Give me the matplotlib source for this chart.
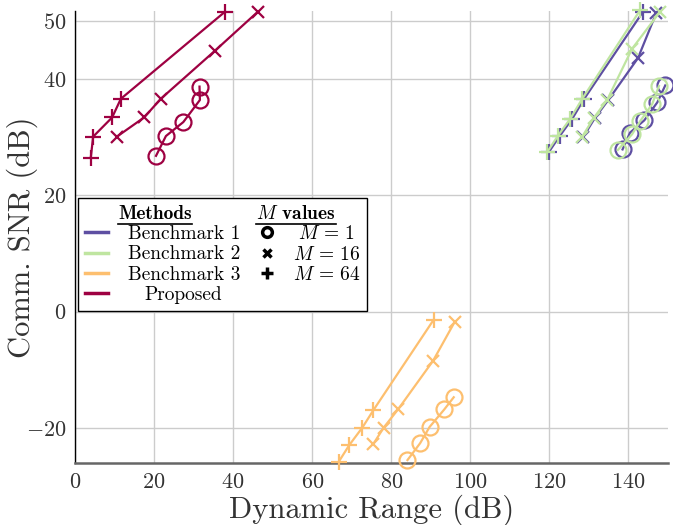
import numpy as np
import matplotlib
matplotlib.use("Agg")
import matplotlib.pyplot as plt
from matplotlib.lines import Line2D

# ── data ────────────────────────────────────────────────────────────────────
methods = ["Benchmark 1", "Benchmark 2", "Benchmark 3", "Proposed"]
m_labels = [r"$M\,=\,1$", r"$M\,=\,16$", r"$M\,=\,64$"]
m_markers = ["o", "x", "+"]

# Benchmark 1
b1_m1_x = [138.5, 140.4, 144.0, 147.3, 149.3]
b1_m1_y = [27.9, 30.8, 32.9, 36.0, 38.9]
b1_m16_x = [128.6, 131.5, 134.9, 142.4, 147.0]
b1_m16_y = [30.1, 33.3, 36.4, 43.6, 51.3]
b1_m64_x = [119.8, 122.6, 125.8, 128.8, 143.7]
b1_m64_y = [27.4, 30.2, 33.2, 36.6, 51.6]

# Benchmark 2
b2_m1_x = [137.3, 140.9, 143.0, 146.0, 147.7]
b2_m1_y = [27.8, 30.5, 32.8, 35.7, 38.8]
b2_m16_x = [128.3, 131.2, 134.6, 140.9, 147.9]
b2_m16_y = [30.1, 33.3, 36.4, 45.2, 51.5]
b2_m64_x = [119.4, 122.1, 125.3, 128.3, 142.9]
b2_m64_y = [27.4, 30.2, 33.2, 36.6, 51.8]

# Benchmark 3
b3_m1_x = [84.1, 87.3, 89.7, 93.4, 95.8]
b3_m1_y = [-25.5, -22.6, -19.8, -16.8, -14.7]
b3_m16_x = [75.4, 78.1, 81.7, 90.6, 96.0]
b3_m16_y = [-22.8, -19.9, -16.8, -8.4, -1.8]
b3_m64_x = [66.7, 69.4, 72.7, 75.5, 90.7]
b3_m64_y = [-25.8, -22.9, -19.9, -16.9, -1.4]

# Proposed
pr_m1_x = [20.5, 23.0, 27.4, 31.6, 31.5]
pr_m1_y = [26.8, 30.2, 32.6, 36.4, 38.7]
pr_m16_x = [10.6, 17.5, 21.7, 35.3, 46.3]
pr_m16_y = [30.1, 33.4, 36.6, 44.8, 51.6]
pr_m64_x = [4.0, 4.6, 9.4, 11.6, 38.0]
pr_m64_y = [26.5, 30.1, 33.4, 36.6, 51.6]

x_ticks = [0, 20, 40, 60, 80, 100, 120, 140]
y_ticks = [-20, 0, 20, 40, 50]

# ── style ───────────────────────────────────────────────────────────────────
plt.rcParams.update({
    "font.family": "serif",
    "font.serif": ["cmr10"],
    "mathtext.fontset": "cm",
    "axes.formatter.use_mathtext": True,
    "axes.unicode_minus": True,
})

cmap = plt.get_cmap("Spectral")
colors = [cmap(1.0), cmap(2 / 3), cmap(1 / 3), cmap(0.0)]
ms = {"o": 11.5, "x": 8.5, "+": 11}

fig = plt.figure(figsize=(6.73, 5.25), dpi=100)
ax = fig.add_axes([0.1114, 0.1181, 0.8812, 0.861])

series = [
    [(b1_m1_x, b1_m1_y), (b1_m16_x, b1_m16_y), (b1_m64_x, b1_m64_y)],
    [(b2_m1_x, b2_m1_y), (b2_m16_x, b2_m16_y), (b2_m64_x, b2_m64_y)],
    [(b3_m1_x, b3_m1_y), (b3_m16_x, b3_m16_y), (b3_m64_x, b3_m64_y)],
    [(pr_m1_x, pr_m1_y), (pr_m16_x, pr_m16_y), (pr_m64_x, pr_m64_y)],
]
for method_series, c in zip(series, colors):
    for (xs, ys), mk in zip(method_series, m_markers):
        ax.plot(xs, ys, color=c, lw=1.6, marker=mk, ms=ms[mk], mew=1.6,
                mfc="none", clip_on=False, zorder=3)

ax.set_xlim(0, 150)
ax.set_ylim(-26, 51.7)
ax.set_xticks(x_ticks)
ax.set_yticks(y_ticks)
ax.grid(True, color="#cccccc", lw=1.0)
ax.set_axisbelow(True)
ax.tick_params(length=0, labelsize=16, colors="#333333")
ax.tick_params(axis="x", pad=7)
ax.tick_params(axis="y", pad=6)
for s in ["top", "right"]:
    ax.spines[s].set_visible(False)
ax.spines["left"].set_color("black")
ax.spines["left"].set_linewidth(1.0)
ax.spines["bottom"].set_color("#666666")
ax.spines["bottom"].set_linewidth(1.8)
ax.set_xlabel("Dynamic Range (dB)", fontsize=22, color="#333333", labelpad=2)
ax.set_ylabel("Comm. SNR (dB)", fontsize=22, color="#333333")
ax.yaxis.set_label_coords(-0.062, 0.5)

# ── legend: two columns with headers ────────────────────────────────────────
blank = Line2D([], [], color="none")
h_methods = [Line2D([], [], color=c, lw=2.5) for c in colors]
h_m = [Line2D([], [], color="black", marker=mk, linestyle="none",
              ms={"o": 7, "x": 6, "+": 8}[mk], mew=2.5, mfc="none")
       for mk in m_markers]
handles = [blank] + h_methods + [blank] + h_m + [blank]
labels = [""] + methods + [""] + m_labels + [""]
leg = ax.legend(handles, labels, ncol=2, loc="upper left",
                bbox_to_anchor=(0.005, 0.586), borderaxespad=0,
                fontsize=14, handlelength=1.2, handletextpad=0.7,
                columnspacing=1.1, labelspacing=0.12, borderpad=0.35,
                fancybox=False, edgecolor="black", framealpha=1)
leg.get_frame().set_linewidth(1.0)
texts = leg.get_texts()
for t in texts[1:4]:
    t.set_x(6)
texts[4].set_x(23)
texts[6].set_x(5)

# headers drawn on the empty first row, then underlined
fig.canvas.draw()
inv = fig.transFigure.inverted()
lb = leg.get_window_extent()
headers = [("Methods", texts[0], 77), (r"$M$ values", texts[5], 218)]
for s, ph, dx in headers:
    pb = ph.get_window_extent()
    fx, fy = inv.transform((lb.x0 + dx, pb.y0))
    t = fig.text(fx, fy, s, fontsize=14, family="cmb10", ha="center",
                 va="baseline", color="black")
    fig.canvas.draw()
    bb = t.get_window_extent()
    (x0, y0), (x1, _) = inv.transform([(bb.x0, bb.y0 - 1), (bb.x1, bb.y0 - 1)])
    fig.add_artist(Line2D([x0, x1], [y0, y0], color="black", lw=1.2))

fig.savefig("out.png", dpi=100)
